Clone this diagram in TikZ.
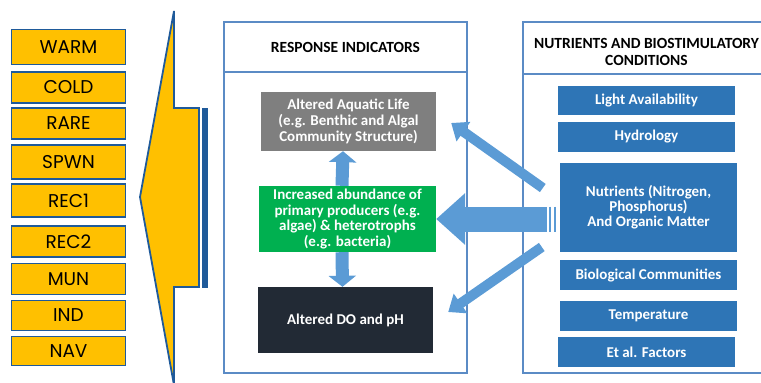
\documentclass[tikz,border=0pt]{standalone}
\usepackage{fontspec}
\setmainfont{Carlito}
\newfontfamily\tagfont{Poppins}
\usetikzlibrary{arrows.meta, calc}

\definecolor{tagfill}{HTML}{FFC000}
\definecolor{tagline}{HTML}{1F5A9A}
\definecolor{panelline}{HTML}{5B8BC5}
\definecolor{lifegrey}{HTML}{7F7F7F}
\definecolor{prodgreen}{HTML}{00B050}
\definecolor{dodark}{HTML}{222A35}
\definecolor{factorblue}{HTML}{2E75B6}
\definecolor{flowblue}{HTML}{5B9BD5}

\begin{document}
\begin{tikzpicture}[x=1pt, y=-1pt,
	tag/.style={draw=tagline, line width=1.8pt, fill=tagfill, minimum width=114pt, inner sep=0pt, font=\tagfont\fontsize{18.5}{20}\selectfont},
	cell/.style={text=white, inner sep=0pt, align=center, font=\fontsize{15}{16}\selectfont\bfseries},
	factor/.style={cell, fill=factorblue, minimum width=177pt},
	heading/.style={align=center, font=\fontsize{15.5}{17}\selectfont\bfseries},
	flow/.style={draw=flowblue, line width=13pt, -{Triangle[width=27pt, length=11pt]}},
	slant/.style={draw=flowblue, line width=10pt, -{Triangle[width=23pt, length=15pt]}}]
	\useasboundingbox (0,0) rectangle (761,383);

	% designated uses
	\node[tag, minimum height=35pt] (warm) at (68.5, 47) {WARM};
	\node[tag, minimum height=31pt] (cold) at (68.5, 87.5) {COLD};
	\node[tag, minimum height=31pt] (rare) at (68.5, 123.5) {RARE};
	\node[tag, minimum height=34pt] (spwn) at (68.5, 162) {SPWN};
	\node[tag, minimum height=33pt] (rec1) at (68.5, 200.5) {REC1};
	\node[tag, minimum height=31pt] (rec2) at (68.5, 241.5) {REC2};
	\node[tag, minimum height=31pt] (mun) at (68.5, 279) {MUN};
	\node[tag, minimum height=30pt] (ind) at (68.5, 315.5) {IND};
	\node[tag, minimum height=29pt] (nav) at (68.5, 351) {NAV};

	% big arrow towards the uses
	\draw[draw=tagline, line width=1.8pt, fill=tagfill, line join=miter]
		(174, 11) -- (174, 108) -- (199, 108) -- (199, 287) -- (174, 287) -- (174, 385) -- (140, 197) -- cycle;
	\fill[tagline] (201.5, 107.5) rectangle (208, 287.5);

	% response indicators
	\draw[draw=panelline, line width=1.6pt] (224, 22) rectangle (467, 373);
	\draw[draw=panelline, line width=1.6pt] (224, 72) -- (467, 72);
	\node[heading] (resp) at (345.5, 47) {RESPONSE INDICATORS};

	\node[cell, fill=lifegrey, minimum width=175pt, minimum height=59pt] (life) at (348.5, 121.5)
		{Altered Aquatic Life\\(e.g. Benthic and Algal\\Community Structure)};
	\node[cell, fill=prodgreen, minimum width=177pt, minimum height=66pt, font=\fontsize{15}{15.5}\selectfont\bfseries] (prod) at (347.5, 219)
		{Increased abundance of\\primary producers (e.g.\\algae) \& heterotrophs\\(e.g. bacteria)};
	\node[cell, fill=dodark, minimum width=175pt, minimum height=66pt] (dox) at (345.5, 320) {Altered DO and pH};

	% nutrients and biostimulatory conditions
	\draw[draw=panelline, line width=1.6pt] (761, 22) -- (523, 22) -- (523, 373) -- (761, 373);
	\draw[draw=panelline, line width=1.6pt] (523, 74) -- (761, 74);
	\node[heading] (nbc) at (646.5, 51.5) {NUTRIENTS AND BIOSTIMULATORY\\CONDITIONS};

	\node[factor, minimum height=29pt] (light) at (646.5, 100.5) {Light Availability};
	\node[factor, minimum height=30pt] (hydro) at (646.5, 137) {Hydrology};
	\node[factor, minimum height=89pt, font=\fontsize{15}{15}\selectfont\bfseries] (nutr) at (648.5, 207.5)
		{Nutrients (Nitrogen,\\Phosphorus)\\And Organic Matter};
	\node[factor, minimum height=30pt] (bio) at (648.5, 275) {Biological Communities};
	\node[factor, minimum height=30pt] (temp) at (648.5, 316) {Temperature};
	\node[factor, minimum height=30pt] (etal) at (646.5, 352) {Et al. Factors};

	% Draw the block arrows
	\draw[flow] ([xshift=-5.5pt]prod.north) -- ([xshift=-5.5pt]life.south);
	\draw[flow] ([xshift=-5.5pt]prod.south) -- ([xshift=-3pt]dox.north);
	\draw[flow, line width=25pt, -{Triangle[width=50pt, length=29pt]}] ($(nutr.west |- prod.east)+(-13,0)$) -- (prod.east);
	\draw[flowblue, line width=2.5pt] ($(nutr.west |- prod.east)+(-10,-12.5)$) -- ($(nutr.west |- prod.east)+(-10,12.5)$);
	\draw[flowblue, line width=2pt] ($(nutr.west |- prod.east)+(-5,-12.5)$) -- ($(nutr.west |- prod.east)+(-5,12.5)$);
	\draw[slant] ($(nutr.west)+(-17,-19.5)$) -- ($(life.east)+(15,1.5)$);
	\draw[slant] ($(nutr.west)+(-18,39.5)$) -- ($(dox.east)+(15,-8)$);
\end{tikzpicture}
\end{document}
